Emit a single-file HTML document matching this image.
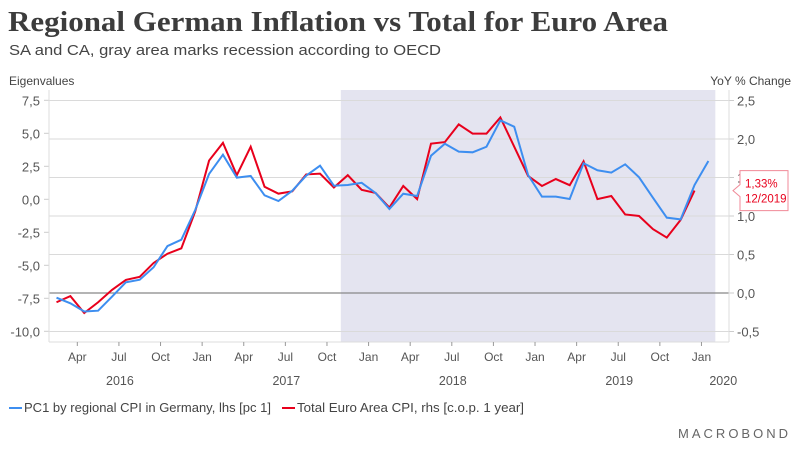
<!DOCTYPE html>
<html><head><meta charset="utf-8"><style>
body{margin:0;background:#fff;width:800px;height:450px;overflow:hidden;font-family:"Liberation Sans",sans-serif}
svg text{font-family:"Liberation Sans",sans-serif}
</style></head><body>
<svg id="c" width="800" height="450">
<text x="8" y="31" font-weight="bold" font-size="28" fill="#3c3c3c" textLength="660" lengthAdjust="spacingAndGlyphs" style="font-family:'Liberation Serif',serif">Regional German Inflation vs Total for Euro Area</text>
<text x="9" y="55" font-size="15" fill="#444" textLength="432" lengthAdjust="spacingAndGlyphs">SA and CA, gray area marks recession according to OECD</text>
<text x="9" y="85" font-size="12" fill="#444">Eigenvalues</text>
<text x="791" y="85" font-size="12" fill="#444" text-anchor="end">YoY % Change</text>
<g id="g"></g>
</svg>
<script>
const blue=[-7.45,-7.88,-8.5,-8.44,-7.38,-6.29,-6.09,-5.15,-3.54,-3.06,-0.81,1.92,3.38,1.64,1.77,0.30,-0.13,0.65,1.79,2.55,1.03,1.08,1.25,0.48,-0.73,0.42,0.25,3.30,4.21,3.61,3.56,3.98,5.98,5.50,1.84,0.20,0.20,0.02,2.73,2.20,2.02,2.65,1.67,0.12,-1.39,-1.52,1.08,2.90];
const red=[-0.12,-0.04,-0.26,-0.12,0.04,0.17,0.21,0.39,0.51,0.58,1.06,1.72,1.95,1.53,1.90,1.38,1.29,1.32,1.54,1.55,1.37,1.53,1.34,1.30,1.11,1.39,1.22,1.94,1.96,2.19,2.07,2.07,2.28,1.90,1.52,1.39,1.48,1.40,1.71,1.22,1.26,1.02,1.00,0.83,0.72,0.95,1.33];
const leftTicks=[7.5,5,2.5,0,-2.5,-5,-7.5,-10];
const rightTicks=[2.5,2,1.5,1,0.5,0,-0.5];
const monthLabels=["Apr","Jul","Oct","Jan","Apr","Jul","Oct","Jan","Apr","Jul","Oct","Jan","Apr","Jul","Oct","Jan"];
const monthIdx=[3,6,9,12,15,18,21,24,27,30,33,36,39,42,45,48];
const years=["2016","2017","2018","2019","2020"];
const yearX=[6,18,30,42,49.5];
const recession=[22,49];
const ns="http://www.w3.org/2000/svg",g=document.getElementById('g');
const X=i=>35.7+i*13.87, YL=v=>199.3-v*13.2, YR=v=>293-v*77;
function el(t,a,txt){const e=document.createElementNS(ns,t);for(const k in a)e.setAttribute(k,a[k]);if(txt!=null)e.textContent=txt;g.appendChild(e);return e;}
let e=el('rect',{x:X(recession[0]),y:90,width:X(recession[1])-X(recession[0]),height:252,fill:'#e4e4f0'});


rightTicks.forEach(v=>{const y=YR(v);
 e=el('line',{x1:49,x2:729,y1:y,y2:y,stroke:v===0?'#888':'#dadada','stroke-width':v===0?1.3:1});
 
 
 el('line',{x1:729,x2:734,y1:y,y2:y,stroke:'#ccc'});
 e=el('text',{x:737,y:y+5,'font-size':13,fill:'#555'},v.toFixed(1).replace('.',','));
 
 });
leftTicks.forEach(v=>{const y=YL(v);
 el('line',{x1:44,x2:49,y1:y,y2:y,stroke:'#ccc'});
 e=el('text',{x:40,y:y+5,'font-size':13,fill:'#555','text-anchor':'end'},v.toFixed(1).replace('.',','));
 
 });
el('line',{x1:49,x2:49,y1:90,y2:342,stroke:'#ddd'});
el('line',{x1:729,x2:729,y1:90,y2:342,stroke:'#ddd'});
el('line',{x1:49,x2:729,y1:342,y2:342,stroke:'#ddd'});
monthIdx.forEach((m,k)=>{const x=X(m);
 el('line',{x1:x,x2:x,y1:342,y2:346,stroke:'#999'});
 e=el('text',{x:x,y:361,'font-size':12,fill:'#555','text-anchor':'middle'},monthLabels[k]);
 
 });
years.forEach((y,k)=>{e=el('text',{x:X(yearX[k])+1,y:385,'font-size':12.5,fill:'#555','text-anchor':'middle'},y);
 
 });
e=el('polyline',{points:red.map((v,i)=>X(i+1.5)+','+YR(v)).join(' '),fill:'none',stroke:'#e8001c','stroke-width':2});


e=el('polyline',{points:blue.map((v,i)=>X(i+1.5)+','+YL(v)).join(' '),fill:'none',stroke:'#3d8ef0','stroke-width':2});


const ly=YR(red[red.length-1]);
e=el('path',{d:`M740,${ly-20} H788 V${ly+20} H740 V${ly+6} L733,${ly} L740,${ly-6} Z`,fill:'#fff',stroke:'#f08a98'});


el('text',{x:745,y:ly-3,'font-size':11.5,fill:'#e8001c'},red[red.length-1].toFixed(2).replace('.',',')+'%');
el('text',{x:745,y:ly+12,'font-size':11.5,fill:'#e8001c'},'12/2019');
e=el('line',{x1:9,x2:22,y1:408,y2:408,stroke:'#3d8ef0','stroke-width':2});


e=el('text',{x:24,y:412,'font-size':12.5,fill:'#444',textLength:247,lengthAdjust:'spacingAndGlyphs'},'PC1 by regional CPI in Germany, lhs [pc 1]');


e=el('line',{x1:282,x2:295,y1:408,y2:408,stroke:'#e8001c','stroke-width':2});


e=el('text',{x:297,y:412,'font-size':12.5,fill:'#444',textLength:227,lengthAdjust:'spacingAndGlyphs'},'Total Euro Area CPI, rhs [c.o.p. 1 year]');


e=el('text',{x:791,y:438,'font-size':13,fill:'#666','text-anchor':'end','letter-spacing':3},'MACROBOND');


</script>
</body></html>
